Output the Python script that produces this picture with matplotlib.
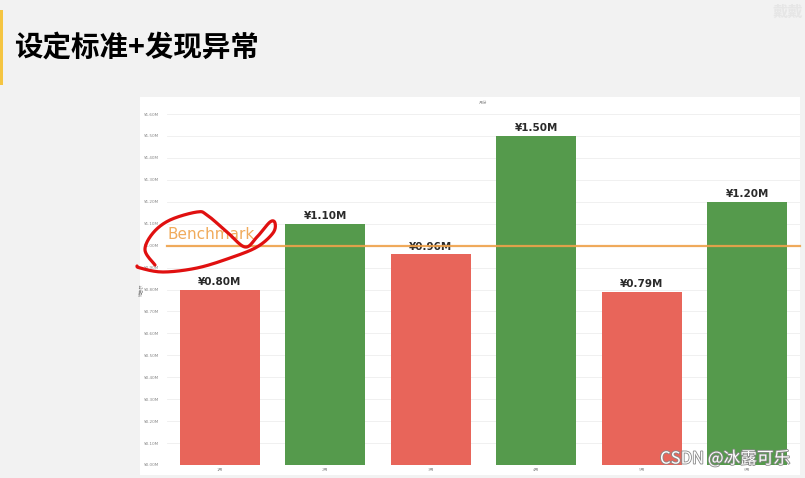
import numpy as np
import matplotlib.pyplot as plt
from matplotlib.patches import Rectangle
import matplotlib.patheffects as pe

plt.rcParams['font.family'] = ['Noto Sans CJK SC', 'DejaVu Sans']

months = ["1月", "2月", "3月", "4月", "5月", "6月"]
sales = [0.80, 1.10, 0.96, 1.50, 0.79, 1.20]   # 百万元
benchmark = 1.0
y_ticks = [i / 10 for i in range(17)]

red = "#E8655A"
green = "#559A4C"
orange = "#EFA24A"

fig = plt.figure(figsize=(8.05, 4.78), dpi=100)
fig.patch.set_facecolor("#f2f2f2")

W, H = 805, 478


def fx(px):
    return px / W


def fy(py):
    return 1 - py / H


def smooth(pts, n=12):
    # catmull-rom through the pen points of the scribble
    pts = np.asarray(pts, float)
    pts = np.vstack([pts[0], pts, pts[-1]])
    out = []
    for i in range(1, len(pts) - 2):
        p0, p1, p2, p3 = pts[i - 1], pts[i], pts[i + 1], pts[i + 2]
        for t in np.linspace(0, 1, n, endpoint=False):
            out.append(0.5 * ((2 * p1) + (-p0 + p2) * t
                              + (2 * p0 - 5 * p1 + 4 * p2 - p3) * t ** 2
                              + (-p0 + 3 * p1 - 3 * p2 + p3) * t ** 3))
    out.append(pts[-2])
    return np.array(out)


# white panel behind the chart
fig.patches.append(Rectangle((fx(140), fy(475)), fx(800) - fx(140), fy(97) - fy(475),
                             transform=fig.transFigure, facecolor="white",
                             edgecolor="none", zorder=-10))
# yellow marker at the left of the heading
fig.patches.append(Rectangle((0, fy(85)), fx(2.5), fy(10) - fy(85),
                             transform=fig.transFigure, facecolor="#f5c542",
                             edgecolor="none", zorder=-5))

fig.text(fx(14), fy(48), "设定标准+发现异常", fontsize=20.5, fontweight="black",
         va="center", ha="left", color="black")
fig.text(fx(803), fy(12), "戴戴", fontsize=11, color="#e6e6e6",
         ha="right", va="center", fontweight="bold")

ax = fig.add_axes([fx(167), fy(465), fx(800) - fx(167), fy(114) - fy(465)])
ax.set_facecolor("none")

x = np.arange(len(months))
colors = [green if v >= benchmark else red for v in sales]
bars = ax.bar(x, sales, width=0.76, color=colors, zorder=2)

for b, v in zip(bars, sales):
    ax.text(b.get_x() + b.get_width() / 2, v + 0.012, f"¥{v:.2f}M",
            ha="center", va="bottom", fontsize=7.5, color="#2a2a2a",
            family=["DejaVu Sans"], fontweight="semibold", zorder=3)

ax.axhline(benchmark, color=orange, lw=1.6, alpha=0.9, zorder=4, clip_on=False)
ax.text(0.0, benchmark + 0.015, "Benchmark", color=orange, fontsize=11,
        ha="left", va="bottom", alpha=0.9, family=["DejaVu Sans"], zorder=4,
        transform=ax.get_yaxis_transform())

ax.set_xlim(-0.5, len(months) - 0.5)
ax.set_ylim(0, 1.6)
ax.set_yticks(y_ticks)
ax.set_yticklabels([f"¥{t:.2f}M" for t in y_ticks], fontsize=3, color="#888888",
                   family=["DejaVu Sans"])
ax.set_xticks(x)
ax.set_xticklabels(months, fontsize=3, color="#999999")
ax.tick_params(length=0, pad=6)
ax.tick_params(axis="x", pad=2)
ax.grid(axis="y", color="#eeeeee", lw=0.6, zorder=0)
for s in ax.spines.values():
    s.set_visible(False)

ax.set_ylabel("销售额", fontsize=3, color="#888888")
ax.yaxis.set_label_coords(-0.038, 0.5)
fig.text(fx(483), fy(103), "月份", fontsize=3, color="#999999", ha="center", va="center")

# red hand-drawn loop around the benchmark label
pen = [(155, 265), (145, 250), (153, 233), (170, 220), (197, 212), (207, 215),
       (227, 232), (245, 247), (257, 237), (270, 222), (275, 223), (273, 233),
       (257, 247), (230, 258), (197, 268), (163, 272), (140, 268), (137, 266)]
loop = smooth(pen)
fig.add_artist(plt.Line2D(fx(loop[:, 0]), fy(loop[:, 1]),
                          transform=fig.transFigure, color="#e01010", lw=2.3,
                          solid_capstyle="round", solid_joinstyle="round", zorder=6))

fig.text(fx(790), fy(459), "CSDN @冰露可乐", fontsize=12, color="white", ha="right",
         va="center", path_effects=[pe.withStroke(linewidth=1.2, foreground="#888888")],
         zorder=7)

fig.savefig("out.png", dpi=100, facecolor=fig.get_facecolor())
